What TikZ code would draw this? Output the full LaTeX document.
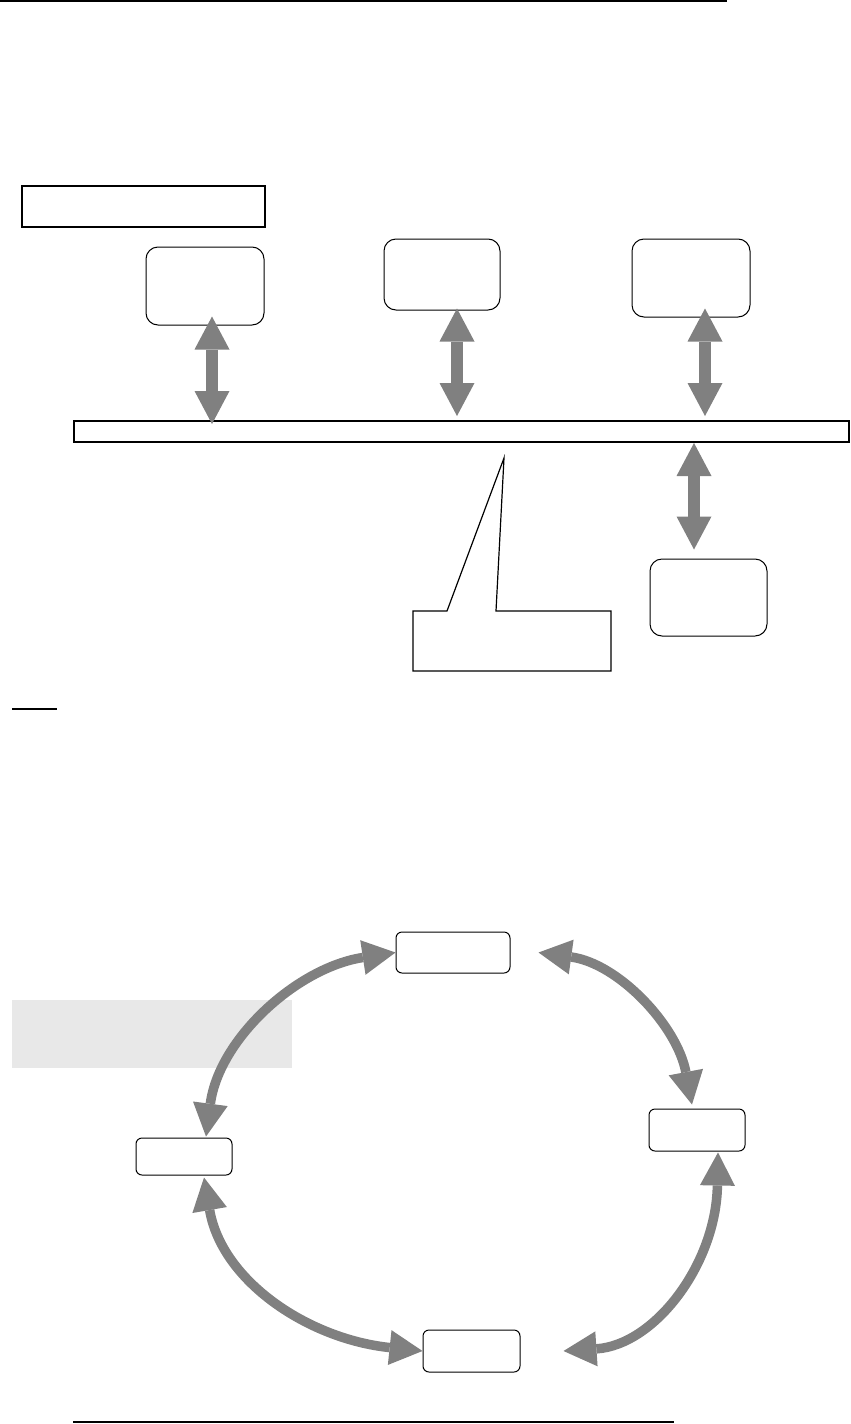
\documentclass[tikz,border=0pt]{standalone}
\usetikzlibrary{arrows.meta,calc}

\begin{document}
\begin{tikzpicture}[x=1pt, y=-1pt,
	box/.style={draw, line width=1pt, rounded corners=12pt, inner sep=0pt},
	stagebox/.style={draw, line width=1pt, rounded corners=6pt, inner sep=0pt},
	frame/.style={draw, line width=2pt, inner sep=0pt},
	link/.style={<->, draw=gray, line width=12pt},
	loop/.style={<->, draw=gray, line width=9.5pt},
	>={Triangle[length=33pt,width=35pt,line width=0pt]}]
	\useasboundingbox (0,0) rectangle (851,1424);
	\draw[line width=2pt] (0,1) -- (727,1);
	\node[frame, minimum width=243pt, minimum height=41pt] (title) at (143.5,206.5) {};
	\node[box, minimum width=118pt, minimum height=78pt] (unit1) at (205,286) {};
	\node[box, minimum width=116pt, minimum height=71pt] (unit2) at (442,274.5) {};
	\node[box, minimum width=118pt, minimum height=78pt] (unit3) at (691,278) {};
	\node[frame, minimum width=775pt, minimum height=21pt] (bus) at (461.5,431.5) {};
	\node[box, minimum width=117pt, minimum height=77pt] (unit4) at (708.5,597.5) {};
	\draw[link] ($(unit1.south)+(7,-9)$) -- ($(unit1.south |- bus.north)+(7,4)$);
	\draw[link] ($(unit2.south)+(15,-2)$) -- ($(unit2.south |- bus.north)+(15,-4)$);
	\draw[link] ($(unit3.south)+(14,-9)$) -- ($(unit3.south |- bus.north)+(14,-4)$);
	\draw[link] ($(unit4.north |- bus.south)+(-14.5,0)$) -- ($(unit4.north)+(-14.5,-9)$);
	\draw[line width=1.2pt] (413,611) -- (447,611) -- (504,458) -- (496,611) -- (611,611) -- (611,671) -- (413,671) -- cycle;
	\draw[line width=1.3pt] (12,709) -- (57,709);

	\node[fill=black!9, minimum width=280pt, minimum height=68pt, inner sep=0pt] (note) at (152,1034) {};
	\node[stagebox, minimum width=114pt, minimum height=41pt] (s1) at (453,952.5) {};
	\node[stagebox, minimum width=96pt, minimum height=42pt] (s2) at (697,1130) {};
	\node[stagebox, minimum width=97pt, minimum height=42pt] (s3) at (471.5,1351) {};
	\node[stagebox, minimum width=96pt, minimum height=37pt] (s4) at (184,1156.5) {};
	\draw[loop] ($(s4.north)+(22,-1)$) .. controls +(13,-98) and +(-98,15) .. (s1.west);
	\draw[loop] ($(s1.east)+(28,0)$) .. controls +(80,11) and +(-15,-79) .. ($(s2.north)+(-5,-4)$);
	\draw[loop] ($(s2.south)+(21,1)$) .. controls +(-2,112) and +(91,-6) .. ($(s3.east)+(43,0)$);
	\draw[loop] ($(s4.south)+(20,2)$) .. controls +(18,104) and +(-114,-12) .. (s3.west);
	\draw[line width=2pt] (73,1422) -- (674,1422);
\end{tikzpicture}
\end{document}
